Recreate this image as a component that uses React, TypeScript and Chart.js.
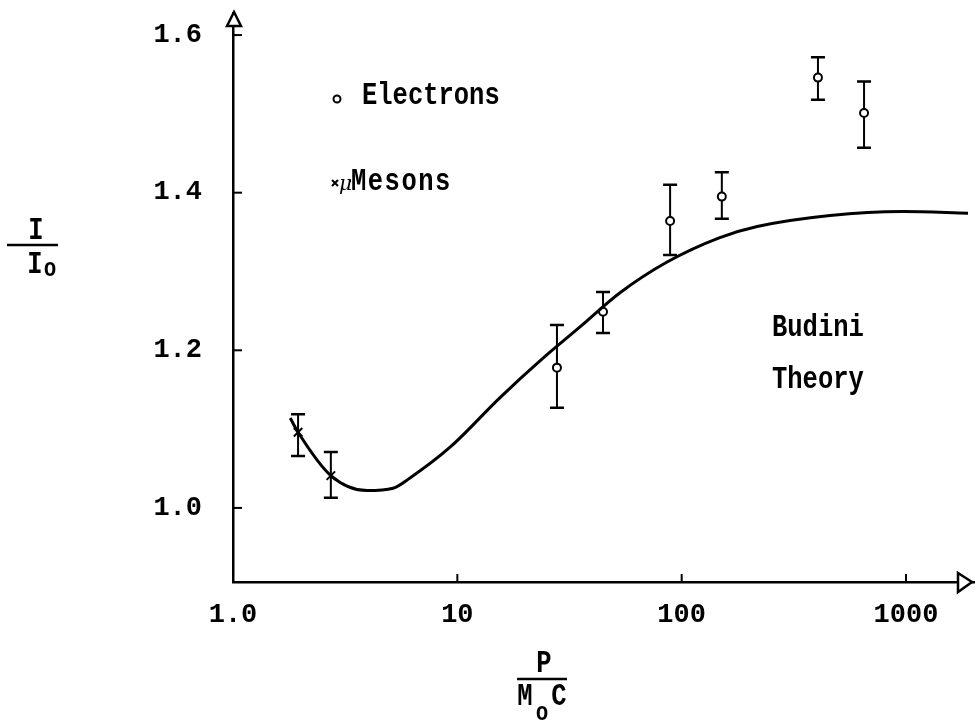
import React, { useEffect, useRef } from "react";
import { Chart, registerables } from "chart.js";

Chart.register(...registerables);

// Axis ticks and their printed labels
const xTickValues = [1, 10, 100, 1000];
const xTickLabels = ["1.0", "10", "100", "1000"];
const yTickValues = [1.0, 1.2, 1.4, 1.6];
const yTickLabels = ["1.0", "1.2", "1.4", "1.6"];

// Axis extents (the arrows sit at the ends)
const xMin = 1;
const xMax = 2030;
const yMin = 0.906;
const yMax = 1.628;

// Budini theory curve: P/(M0 c) against I/I0
const theoryP = [1.8, 1.95, 2.73, 3.96, 5.17, 6.15, 9.28, 15.5, 24.1, 35, 53.1, 86.1, 148, 217, 459, 970, 1890];
const theoryRatio = [1.114, 1.096, 1.041, 1.022, 1.025, 1.038, 1.077, 1.14, 1.19, 1.229, 1.273, 1.312, 1.343, 1.357, 1.371, 1.376, 1.374];

// Electron measurements with error limits
const electronP = [27.8, 44.6, 88.8, 151, 405, 650];
const electronRatio = [1.178, 1.249, 1.364, 1.395, 1.546, 1.501];
const electronHigh = [1.232, 1.274, 1.41, 1.426, 1.572, 1.541];
const electronLow = [1.127, 1.222, 1.321, 1.367, 1.518, 1.457];

// mu-meson measurements with error limits
const mesonP = [1.95, 2.73];
const mesonRatio = [1.096, 1.041];
const mesonHigh = [1.119, 1.071];
const mesonLow = [1.066, 1.013];

const FONT = "'Liberation Mono', 'Courier New', monospace";

// typewriter lettering: slightly taller than the mono face is by default
const typeText = (ctx: any, text: string, x: number, y: number, size: number, align = "left", spacing = 0) => {
  ctx.save();
  ctx.font = `bold ${size}px ${FONT}`;
  ctx.textAlign = align;
  ctx.textBaseline = "alphabetic";
  if (spacing) ctx.letterSpacing = `${spacing}px`;
  ctx.translate(x, y);
  ctx.scale(1, 1.25);
  ctx.fillText(text, 0, 0);
  ctx.restore();
};

const errorBars = (chart: any, xs: number[], highs: number[], lows: number[]) => {
  const ctx = chart.ctx;
  const sx = chart.scales.x;
  const sy = chart.scales.y;
  ctx.save();
  ctx.strokeStyle = "#000";
  ctx.lineCap = "butt";
  xs.forEach((p, i) => {
    const x = sx.getPixelForValue(p);
    const yt = sy.getPixelForValue(highs[i]);
    const yb = sy.getPixelForValue(lows[i]);
    ctx.lineWidth = 2;
    ctx.beginPath();
    ctx.moveTo(x, yt);
    ctx.lineTo(x, yb);
    ctx.stroke();
    ctx.lineWidth = 2.5;
    ctx.beginPath();
    ctx.moveTo(x - 7, yt);
    ctx.lineTo(x + 7, yt);
    ctx.moveTo(x - 7, yb);
    ctx.lineTo(x + 7, yb);
    ctx.stroke();
  });
  ctx.restore();
};

const paperPlugin = {
  id: "paperAnnotations",
  beforeDatasetsDraw(chart: any) {
    errorBars(chart, electronP, electronHigh, electronLow);
    errorBars(chart, mesonP, mesonHigh, mesonLow);
  },
  afterDraw(chart: any) {
    const ctx = chart.ctx;
    const { left, right, top, bottom } = chart.chartArea;
    const sx = chart.scales.x;
    const sy = chart.scales.y;
    ctx.save();
    ctx.strokeStyle = "#000";
    ctx.fillStyle = "#000";

    // inward tick marks
    ctx.lineWidth = 2;
    yTickValues.forEach((v) => {
      const y = sy.getPixelForValue(v);
      ctx.beginPath();
      ctx.moveTo(left, y);
      ctx.lineTo(left + 9, y);
      ctx.stroke();
    });
    xTickValues.slice(1).forEach((v) => {
      const x = sx.getPixelForValue(v);
      ctx.beginPath();
      ctx.moveTo(x, bottom);
      ctx.lineTo(x, bottom - 8);
      ctx.stroke();
    });

    // open arrow heads at the axis ends
    ctx.lineWidth = 2.5;
    ctx.lineJoin = "miter";
    ctx.fillStyle = "#fff";
    ctx.beginPath();
    ctx.moveTo(left + 1, top - 1);
    ctx.lineTo(left - 6, top + 13);
    ctx.lineTo(left + 8, top + 13);
    ctx.closePath();
    ctx.fill();
    ctx.stroke();
    ctx.beginPath();
    ctx.moveTo(right - 3, bottom);
    ctx.lineTo(right - 17, bottom - 9);
    ctx.lineTo(right - 17, bottom + 10);
    ctx.closePath();
    ctx.fill();
    ctx.stroke();
    ctx.fillStyle = "#000";

    // key
    ctx.lineWidth = 2;
    ctx.beginPath();
    ctx.arc(337, 99, 3.5, 0, Math.PI * 2);
    ctx.stroke();
    typeText(ctx, "Electrons", 362, 104, 25.5);

    ctx.beginPath();
    ctx.moveTo(332, 180);
    ctx.lineTo(338, 186);
    ctx.moveTo(338, 180);
    ctx.lineTo(332, 186);
    ctx.stroke();
    ctx.font = "italic 20px 'DejaVu Serif', serif";
    ctx.textAlign = "left";
    ctx.fillText("\u03bc", 339, 190);
    ctx.beginPath();
    ctx.arc(350, 181, 1.2, 0, Math.PI * 2);
    ctx.fill();
    typeText(ctx, "Mesons", 351, 190, 25.5, "left", 1.5);

    typeText(ctx, "Budini", 772, 336, 25.5);
    typeText(ctx, "Theory", 772, 388, 25.5);

    // y-axis quantity I / I0
    typeText(ctx, "I", 36, 239, 25.5, "center");
    ctx.lineWidth = 2.5;
    ctx.beginPath();
    ctx.moveTo(7, 245);
    ctx.lineTo(58, 245);
    ctx.stroke();
    typeText(ctx, "I", 35, 273, 25.5, "center");
    typeText(ctx, "o", 50, 276, 21, "center");

    // x-axis quantity P / (M0 C)
    typeText(ctx, "P", 544, 672, 25.5, "center");
    ctx.beginPath();
    ctx.moveTo(517, 679);
    ctx.lineTo(567, 679);
    ctx.stroke();
    typeText(ctx, "M", 525, 705, 25.5, "center");
    typeText(ctx, "C", 559, 705, 25.5, "center");
    typeText(ctx, "o", 542, 720, 21, "center");

    ctx.restore();
  },
};

export default function App() {
  const canvasRef = useRef<HTMLCanvasElement | null>(null);

  useEffect(() => {
    const canvas = canvasRef.current;
    if (!canvas) return;

    const chart = new Chart(canvas, {
      type: "scatter",
      data: {
        datasets: [
          {
            type: "line",
            label: "Budini Theory",
            data: theoryP.map((p, i) => ({ x: p, y: theoryRatio[i] })),
            borderColor: "#000",
            borderWidth: 3,
            pointRadius: 0,
            cubicInterpolationMode: "monotone",
            fill: false,
          },
          {
            label: "Electrons",
            data: electronP.map((p, i) => ({ x: p, y: electronRatio[i] })),
            pointStyle: "circle",
            pointRadius: 4,
            pointBorderWidth: 2,
            pointBackgroundColor: "#fff",
            pointBorderColor: "#000",
          },
          {
            label: "\u03bc-Mesons",
            data: mesonP.map((p, i) => ({ x: p, y: mesonRatio[i] })),
            pointStyle: "crossRot",
            pointRadius: 6,
            pointBorderWidth: 2,
            pointBorderColor: "#000",
          },
        ],
      },
      options: {
        responsive: false,
        animation: false,
        devicePixelRatio: 1,
        layout: { autoPadding: false, padding: { top: 13, left: 0, right: 0, bottom: 0 } },
        plugins: {
          legend: { display: false },
          tooltip: { enabled: false },
          title: { display: false },
        },
        scales: {
          x: {
            type: "logarithmic",
            min: xMin,
            max: xMax,
            grid: { display: true, drawOnChartArea: false, drawTicks: false },
            border: { display: true, color: "#000", width: 2.5 },
            afterBuildTicks: (scale: any) => {
              scale.ticks = xTickValues.map((v) => ({ value: v }));
            },
            afterFit: (scale: any) => {
              scale.height = 141;
              scale.paddingLeft = 0;
              scale.paddingRight = 0;
            },
            ticks: {
              autoSkip: false,
              maxRotation: 0,
              padding: 17,
              color: "#000",
              font: { family: FONT, size: 27, weight: "bold" },
              callback: (v: any) => {
                const i = xTickValues.indexOf(Number(v));
                return i >= 0 ? xTickLabels[i] : "";
              },
            },
          },
          y: {
            type: "linear",
            min: yMin,
            max: yMax,
            grid: { display: true, drawOnChartArea: false, drawTicks: false },
            border: { display: true, color: "#000", width: 2.5 },
            afterBuildTicks: (scale: any) => {
              scale.ticks = yTickValues.map((v) => ({ value: v }));
            },
            afterFit: (scale: any) => {
              scale.width = 233;
              scale.paddingTop = 0;
              scale.paddingBottom = 0;
            },
            ticks: {
              autoSkip: false,
              padding: 31,
              color: "#000",
              font: { family: FONT, size: 27, weight: "bold" },
              callback: (v: any) => {
                const i = yTickValues.findIndex((t) => Math.abs(t - Number(v)) < 1e-9);
                return i >= 0 ? yTickLabels[i] : "";
              },
            },
          },
        },
      } as any,
      plugins: [paperPlugin],
    });

    return () => chart.destroy();
  }, []);

  return (
    <div style={{ position: "absolute", left: 0, top: 0, width: 975, height: 723, background: "#fff" }}>
      <canvas ref={canvasRef} width={975} height={723} />
    </div>
  );
}
